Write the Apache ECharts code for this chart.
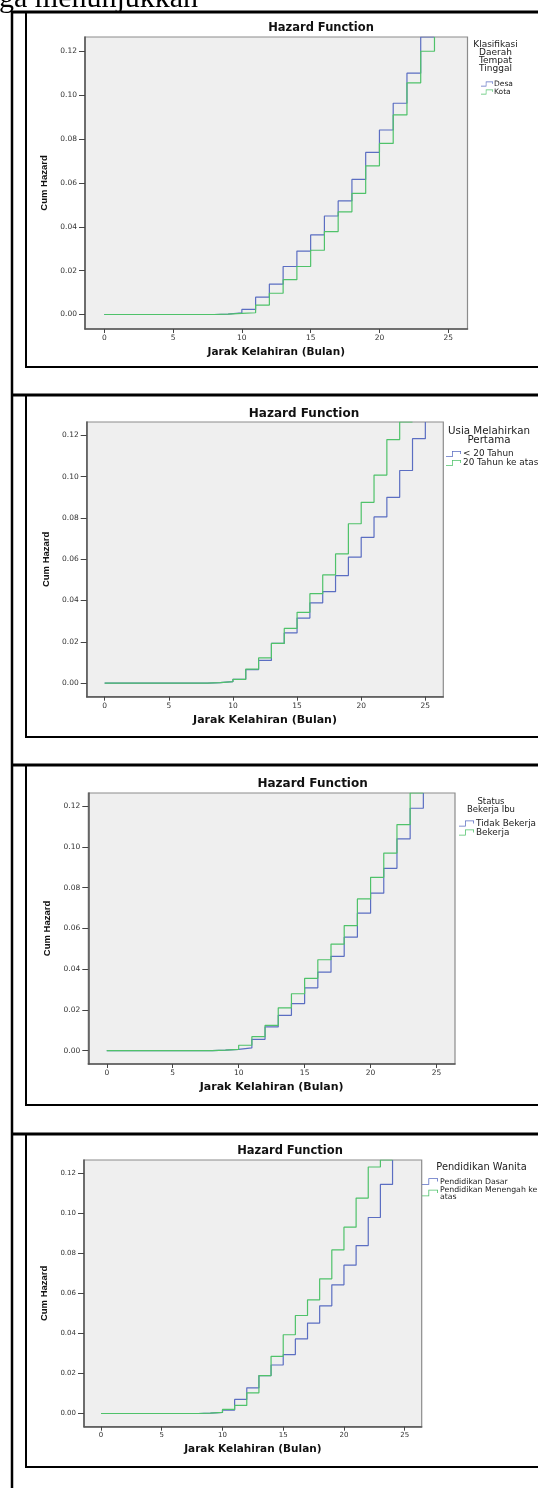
<!DOCTYPE html>
<html><head><meta charset="utf-8">
<script src="https://cdn.jsdelivr.net/npm/echarts@6/dist/echarts.min.js"></script>
<style>html,body{margin:0;padding:0;background:#fff;overflow:hidden}#c{width:538px;height:1488px}</style>
</head><body><div id="c"></div>
<script>
// ---------- data ----------
const months = [0,1,2,3,4,5,6,7,8,9,10,11,12,13,14,15,16,17,18,19,20,21,22,23,24,25];
const xTicks = [0,5,10,15,20,25];
const yTicks = [0,0.02,0.04,0.06,0.08,0.10,0.12];
const titleText = 'Hazard Function';
const xName = 'Jarak Kelahiran (Bulan)';
const yName = 'Cum Hazard';

// Panel 1: Klasifikasi Daerah Tempat Tinggal
const desa = [0,0,0,0,0,0,0,0,0.0002,0.0008,0.0023,0.0079,0.0139,0.0219,0.0289,0.0363,0.0449,0.0518,0.0616,0.0739,0.0841,0.0963,0.110,0.1265,0.1265];
const kota = [0,0,0,0,0,0,0,0,0.0002,0.0005,0.0008,0.0043,0.0097,0.0159,0.0219,0.0293,0.0378,0.0468,0.0552,0.0678,0.0780,0.0910,0.1056,0.120,0.1265];
// Panel 2: Usia Melahirkan Pertama
const kurang20 = [0,0,0,0,0,0,0,0,0.0002,0.0007,0.0018,0.0065,0.0110,0.0192,0.0243,0.0315,0.0389,0.0443,0.0521,0.0610,0.0706,0.0805,0.0900,0.1030,0.1184,0.1265];
const atas20 = [0,0,0,0,0,0,0,0,0.0002,0.0007,0.0018,0.0068,0.0122,0.0192,0.0265,0.0343,0.0433,0.0524,0.0626,0.0772,0.0876,0.1008,0.1180,0.1265,0.1265];
// Panel 3: Status Bekerja Ibu
const tidakBekerja = [0,0,0,0,0,0,0,0,0.0002,0.0006,0.0013,0.0055,0.0116,0.0173,0.0231,0.0308,0.0385,0.0463,0.0557,0.0675,0.0773,0.0895,0.1040,0.1190,0.1265];
const bekerja = [0,0,0,0,0,0,0,0,0.0002,0.0006,0.0026,0.0068,0.0124,0.0210,0.0279,0.0355,0.0446,0.0523,0.0614,0.0745,0.0851,0.0970,0.1110,0.1265,0.1265];
// Panel 4: Pendidikan Wanita
const pendDasar = [0,0,0,0,0,0,0,0,0.0002,0.0005,0.0017,0.0070,0.0128,0.0189,0.0242,0.0294,0.0372,0.0451,0.0537,0.0642,0.0740,0.0838,0.0978,0.1143,0.1265];
const pendMenengah = [0,0,0,0,0,0,0,0,0.0002,0.0005,0.0020,0.0040,0.0103,0.0189,0.0285,0.0393,0.0489,0.0567,0.0672,0.0816,0.0930,0.1075,0.1230,0.1265,0.1265];

const legendTitles = ['Klasifikasi\nDaerah\nTempat\nTinggal', 'Usia Melahirkan\nPertama', 'Status\nBekerja Ibu', 'Pendidikan Wanita'];
const groupNames = [['Desa','Kota'], ['< 20 Tahun','20 Tahun ke atas'], ['Tidak Bekerja','Bekerja'], ['Pendidikan Dasar','Pendidikan Menengah ke atas']];
const groupData = [[desa,kota],[kurang20,atas20],[tidakBekerja,bekerja],[pendDasar,pendMenengah]];

// ---------- layout / style ----------
const BLUE = '#5b6ec2', GREEN = '#4fc26a';
const FONT = 'DejaVu Sans';
const X_MIN = -1.4, X_MAX = 26.4, Y_MIN = -0.0066, Y_MAX = 0.1265;
const layouts = [
  {box:[12,367], grid:{left:85, top:37, width:382.5, height:292}, title:[321,28.5,11.5], fs:7.5, nameFs:10.5,
   lt:{x:495.5, y:44.6, lh:8.1, fs:9}, lg:{x:481, y:80, lh:7.8, fs:7.5, iw:12, pad:-4}},
  {box:[395,737], grid:{left:86.7, top:422, width:356.6, height:274.7}, title:[304,413.5,12], fs:7.5, nameFs:11,
   lt:{x:489, y:431.6, lh:8.3, fs:10.3}, lg:{x:446, y:449.6, lh:8.6, fs:8.9, iw:15, pad:-3}},
  {box:[765,1105], grid:{left:88.3, top:793, width:366.7, height:271}, title:[312.6,783.5,12], fs:7.5, nameFs:11,
   lt:{x:491, y:801.5, lh:8.5, fs:8.5}, lg:{x:459, y:819, lh:7.5, fs:8.9, iw:15, pad:-3}},
  {box:[1134,1467], grid:{left:84, top:1160, width:337.7, height:266.7}, title:[290,1151,11.5], fs:7, nameFs:10.5,
   lt:{x:481.5, y:1167.5, lh:9, fs:9.8}, lg:{x:422, y:1177.5, lh:7, fs:7.8, iw:16, pad:-3}}
];

const stepIcon = 'path://M0,7L8,7L8,0L20,0L20,4L19,4L19,1L9,1L9,8L0,8Z';

const option = {animation:false, backgroundColor:'#fff', grid:[], xAxis:[], yAxis:[], series:[], legend:[], graphic:[]};
const G = option.graphic;

// document text and table frame
G.push({type:'text', x:-1, y:-1, style:{text:'ga menunjukkan', font:'30px "Liberation Serif"', fill:'#000', verticalAlign:'middle'}});
G.push({type:'line', shape:{x1:12, y1:11, x2:12, y2:1488}, style:{stroke:'#000', lineWidth:2.5}});

layouts.forEach((L, i) => {
  G.push({type:'line', shape:{x1:11, y1:L.box[0], x2:538, y2:L.box[0]}, style:{stroke:'#000', lineWidth:2.8}});
  G.push({type:'rect', shape:{x:26, y:L.box[0], width:600, height:L.box[1]-L.box[0]}, style:{fill:'none', stroke:'#000', lineWidth:2}});
  G.push({type:'text', x:L.title[0], y:L.title[1], style:{text:titleText, font:'bold '+L.title[2]+'px "'+FONT+'"', fill:'#111', align:'center', verticalAlign:'middle'}});
  legendTitles[i].split('\n').forEach((t, k) => {
    G.push({type:'text', x:L.lt.x, y:L.lt.y + k*L.lt.lh, style:{text:t, font:L.lt.fs+'px "'+FONT+'"', fill:'#222', align:'center', verticalAlign:'middle'}});
  });
  option.grid.push(Object.assign({show:true, backgroundColor:'#efefef', borderColor:'#8c8c8c', borderWidth:1.2, containLabel:false}, L.grid));
  option.xAxis.push({type:'value', gridIndex:i, min:X_MIN, max:X_MAX,
    name:xName, nameLocation:'middle', nameGap:17.5, nameTextStyle:{fontFamily:FONT, fontWeight:'bold', fontSize:L.nameFs, color:'#111'},
    axisLine:{show:true, onZero:false, lineStyle:{color:'#555', width:1.5}},
    axisTick:{show:true, length:4, customValues:xTicks, lineStyle:{color:'#444'}},
    axisLabel:{customValues:xTicks, margin:5, fontFamily:FONT, fontSize:L.fs, color:'#333'},
    splitLine:{show:false}});
  option.yAxis.push({type:'value', gridIndex:i, min:Y_MIN, max:Y_MAX,
    name:yName, nameLocation:'middle', nameGap:31, nameTextStyle:{fontFamily:'Liberation Sans', fontWeight:'bold', fontSize:9.5, color:'#111'},
    axisLine:{show:true, onZero:false, lineStyle:{color:'#555', width:1.5}},
    axisTick:{show:true, length:6, customValues:yTicks, lineStyle:{color:'#444'}},
    axisLabel:{customValues:yTicks, margin:8, fontFamily:FONT, fontSize:L.fs, color:'#333', formatter:v => v.toFixed(2)},
    splitLine:{show:false}});
  groupNames[i].forEach((nm, k) => {
    option.series.push({type:'line', name:nm, xAxisIndex:i, yAxisIndex:i, step:'end', showSymbol:false, symbol:'none',
      data: groupData[i][k].map((v, j) => [months[j], v]),
      lineStyle:{color:k ? GREEN : BLUE, width:1.2}, itemStyle:{color:k ? GREEN : BLUE}, z:2+k});
  });
  option.legend.push({orient:'vertical', left:L.lg.x, top:L.lg.y, itemGap:0, itemWidth:L.lg.iw, itemHeight:7, padding:0,
    icon:stepIcon, data:groupNames[i], selectedMode:false, itemStyle:{borderWidth:0},
    formatter: n => n === 'Pendidikan Menengah ke atas' ? 'Pendidikan Menengah ke\natas' : n,
    textStyle:{fontFamily:FONT, fontSize:L.lg.fs, lineHeight:L.lg.lh, color:'#222', padding:[0,0,0,L.lg.pad]}});
});

const chart = echarts.init(document.getElementById('c'), null, {renderer:'canvas'});
chart.setOption(option);
</script></body></html>
